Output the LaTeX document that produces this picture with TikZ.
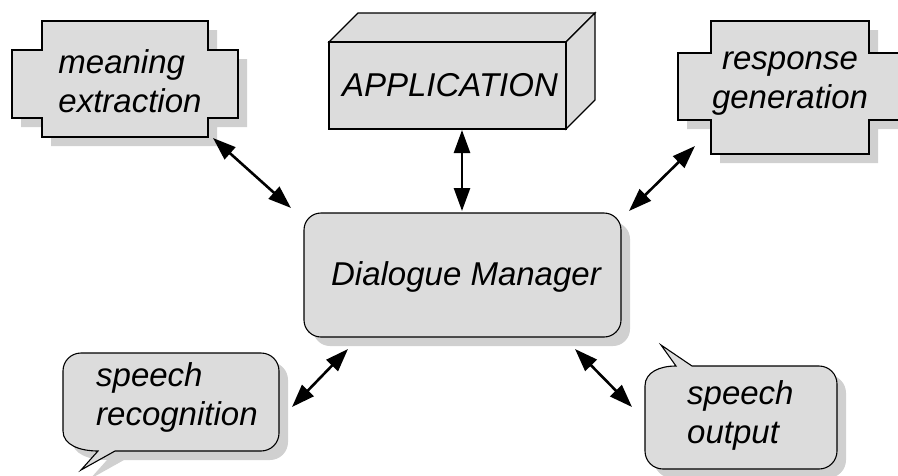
\documentclass[tikz,border=0pt]{standalone}
\usepackage{fontspec}
\setmainfont{Liberation Sans}
\usetikzlibrary{arrows.meta}
\definecolor{boxfill}{HTML}{DCDCDC}
\definecolor{shadowfill}{HTML}{D0D0D0}
\begin{document}
\begin{tikzpicture}[x=1pt,y=-1pt,
  outline/.style={draw=black,line width=1.1pt,fill=boxfill,line join=miter},
  shade/.style={fill=shadowfill,draw=none},
  frame/.style={draw=none,fill=none,inner sep=0pt,outer sep=0pt,rectangle},
  lbl/.style={font=\fontsize{33}{39}\selectfont\itshape,inner sep=0pt},
  biarrow/.style={line width=2.6pt,>={Triangle[length=23pt,width=16pt]},<->}]

\useasboundingbox (0,0) rectangle (898,475);

% ---------- meaning extraction ----------
\path[shade,shift={(9,9)}] (42,21) -- (208,21) -- (208,50) -- (238,50) -- (238,118) -- (208,118) -- (208,137) -- (42,137) -- (42,118) -- (12,118) -- (12,50) -- (42,50) -- cycle;
\path[outline] (42,21) -- (208,21) -- (208,50) -- (238,50) -- (238,118) -- (208,118) -- (208,137) -- (42,137) -- (42,118) -- (12,118) -- (12,50) -- (42,50) -- cycle;
\node[frame,minimum width=166pt,minimum height=116pt] (me) at (125,79) {};
\node[lbl,align=left] (metext) at (130,81) {meaning\\extraction};

% ---------- APPLICATION ----------
\path[outline] (329,42) -- (358,13) -- (595,13) -- (566,42) -- cycle;
\path[outline] (566,42) -- (595,13) -- (595,100) -- (566,129) -- cycle;
\path[outline] (329,42) rectangle (566,129);
\node[frame,minimum width=237pt,minimum height=87pt] (app) at (447.5,85.5) {};
\node[lbl] (apptext) at (450,85) {APPLICATION};

% ---------- response generation ----------
\path[shade,shift={(9,9)}] (711,21) -- (869,21) -- (869,53) -- (902,53) -- (902,120) -- (869,120) -- (869,154) -- (711,154) -- (711,120) -- (678,120) -- (678,53) -- (711,53) -- cycle;
\path[outline] (711,21) -- (869,21) -- (869,53) -- (902,53) -- (902,120) -- (869,120) -- (869,154) -- (711,154) -- (711,120) -- (678,120) -- (678,53) -- (711,53) -- cycle;
\node[frame,minimum width=158pt,minimum height=133pt] (rg) at (790,87.5) {};
\node[lbl,align=center] (rgtext) at (790,84) {response\\generation};

% ---------- Dialogue Manager ----------
\fill[shadowfill,rounded corners=17pt] (313,222) rectangle (630,346);
\node[outline,rounded corners=17pt,minimum width=317pt,minimum height=124pt,inner sep=0pt,outer sep=0pt] (dm) at (462.5,275) {};
\node[lbl] (dmtext) at (466,277) {Dialogue Manager};

% ---------- speech recognition ----------
\path[shade,shift={(9,9)}] (98,451) -- (81,470) -- (115,451) -- (261,451) .. controls (271,451) and (279,443) .. (279,433) -- (279,371) .. controls (279,361) and (271,353) .. (261,353) -- (81,353) .. controls (71,353) and (63,361) .. (63,371) -- (63,431) .. controls (63,445) and (80,451) .. (98,451) -- cycle;
\path[outline] (98,451) -- (81,470) -- (115,451) -- (261,451) .. controls (271,451) and (279,443) .. (279,433) -- (279,371) .. controls (279,361) and (271,353) .. (261,353) -- (81,353) .. controls (71,353) and (63,361) .. (63,371) -- (63,431) .. controls (63,445) and (80,451) .. (98,451) -- cycle;
\node[frame,minimum width=216pt,minimum height=98pt] (sr) at (171,402) {};
\node[lbl,align=left,anchor=west] (srtext) at (96,397) {speech\\recognition};

% ---------- speech output ----------
\path[shade,shift={(9,9)}] (676,366) -- (661,345) -- (692,366) -- (819,366) .. controls (829,366) and (837,374) .. (837,384) -- (837,451) .. controls (837,461) and (829,469) .. (819,469) -- (663,469) .. controls (653,469) and (645,461) .. (645,451) -- (645,386) .. controls (645,372) and (660,366) .. (676,366) -- cycle;
\path[outline] (676,366) -- (661,345) -- (692,366) -- (819,366) .. controls (829,366) and (837,374) .. (837,384) -- (837,451) .. controls (837,461) and (829,469) .. (819,469) -- (663,469) .. controls (653,469) and (645,461) .. (645,451) -- (645,386) .. controls (645,372) and (660,366) .. (676,366) -- cycle;
\node[frame,minimum width=192pt,minimum height=103pt] (so) at (741,417.5) {};
\node[lbl,align=left,anchor=west] (sotext) at (687,415) {speech\\output};

% ---------- connectors ----------
\draw[biarrow] ([shift={(5,1)}]me.south east) -- ([shift={(-13,-5)}]dm.north west);
\draw[biarrow] ([shift={(14.5,1)}]app.south) -- ([shift={(-0.5,-2)}]dm.north);
\draw[biarrow] ([shift={(-16,-8)}]rg.south west) -- ([shift={(8,-2)}]dm.north east);
\draw[biarrow] ([shift={(44,12)}]dm.south west) -- ([shift={(13,5)}]sr.east);
\draw[biarrow] ([shift={(-46,12)}]dm.south east) -- ([shift={(-13,-10.5)}]so.west);
\end{tikzpicture}
\end{document}
